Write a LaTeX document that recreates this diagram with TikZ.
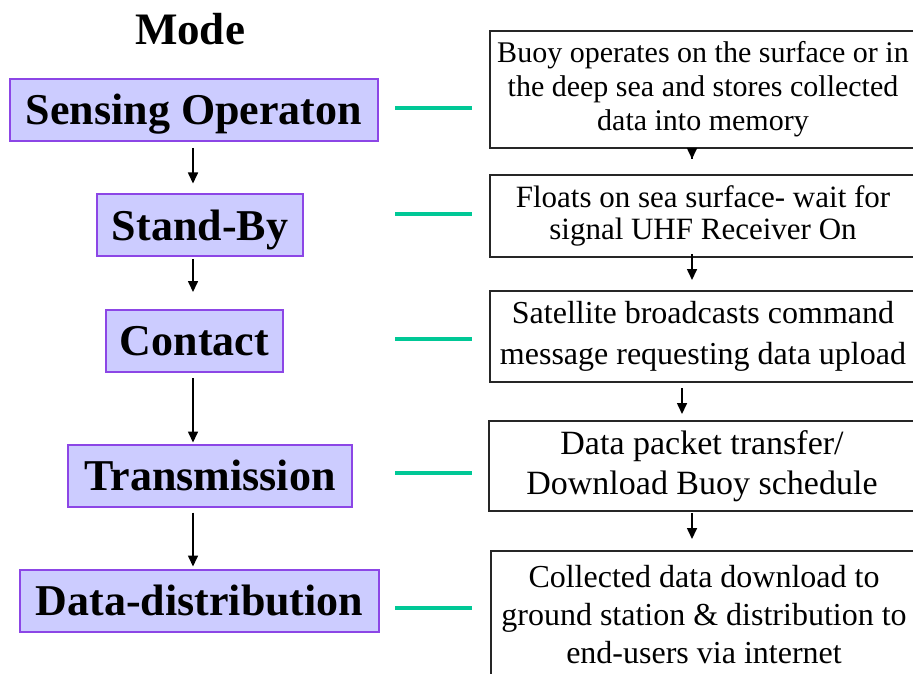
\documentclass[tikz,border=0pt]{standalone}
\usepackage{fontspec}
\setmainfont{Liberation Serif}
\usepackage{tikz}
\usetikzlibrary{arrows.meta,positioning}
\definecolor{ModeFill}{RGB}{204,204,255}
\definecolor{ModeLine}{RGB}{140,70,230}
\definecolor{LinkTeal}{RGB}{0,200,150}

\begin{document}
\begin{tikzpicture}[x=0.5pt,y=-0.5pt,
        mode/.style={draw=ModeLine,fill=ModeFill,line width=1pt,inner sep=0pt,
                     minimum height=31pt,text height=14.6pt,text depth=0pt,
                     font=\fontsize{22}{26}\selectfont\bfseries},
        desc/.style={draw=black!85,line width=1pt,inner sep=0pt,
                     minimum width=213pt,align=center},
        arr/.style={-{Triangle[width=5pt,length=5.5pt]},line width=0.8pt},
        link/.style={LinkTeal,line width=1.6pt}
      ]
        \useasboundingbox (0,0) rectangle (913,673);
        % modes
        \node[font=\fontsize{22.5}{26}\selectfont\bfseries,anchor=base] (title) at (190,45) {Mode};
        \node[mode,minimum width=184pt] (SO) at (194,110) {Sensing Operaton};
        \node[mode,minimum width=103pt] (SB) at (200,225.5) {Stand-By};
        \node[mode,minimum width=88.5pt] (C) at (194.5,341) {Contact};
        \node[mode,minimum width=142pt] (T) at (210,475.5) {Transmission};
        \node[mode,minimum width=179.5pt] (DD) at (199.5,600.5) {Data-distribution};
        % descriptions
        \node[desc,minimum height=58.5pt,font=\fontsize{15}{17}\selectfont] (b1) at (703,89.5)
          {Buoy operates on the surface or in\\the deep sea and stores collected\\data into memory};
        \node[desc,minimum height=41pt,font=\fontsize{15.5}{16}\selectfont] (b2) at (703,216)
          {Floats on sea surface- wait for\\signal UHF Receiver On};
        \node[desc,minimum height=45.5pt,font=\fontsize{16}{20.5}\selectfont] (b3) at (703,336.5)
          {Satellite broadcasts command\\message requesting data upload};
        \node[desc,minimum height=45pt,font=\fontsize{17}{20}\selectfont] (b4) at (702,466)
          {Data packet transfer/\\Download Buoy schedule};
        \node[desc,minimum height=64pt,font=\fontsize{16}{19}\selectfont] (b5) at (704,615)
          {Collected data download to\\ground station \& distribution to\\end-users via internet};
        % arrows
        \coordinate (ax) at (193,0);
        \coordinate (bx) at (692,0);
        \coordinate (cx) at (682,0);
        \draw[arr,shorten <=3pt,shorten >=5pt] (SO.south -| ax) -- (SB.north -| ax);
        \draw[arr,shorten <=1pt,shorten >=8.5pt] (SB.south -| ax) -- (C.north -| ax);
        \draw[arr,shorten <=2.5pt,shorten >=0.5pt] (C.south -| ax) -- (T.north -| ax);
        \draw[arr,shorten <=2.5pt,shorten >=1pt] (T.south -| ax) -- (DD.north -| ax);
        \draw[arr,shorten <=-5pt,shorten >=7.5pt] (b1.south -| bx) -- (b2.north -| bx);
        \draw[arr,shorten <=-2pt,shorten >=5pt] (b2.south -| bx) -- (b3.north -| bx);
        \draw[arr,shorten <=2.5pt,shorten >=3pt] (b3.south -| cx) -- (b4.north -| cx);
        \draw[arr,shorten <=0.5pt,shorten >=5.5pt] (b4.south -| bx) -- (b5.north -| bx);
        % teal links
        \foreach \y [count=\i] in {108,214,339,473,608}{
          \coordinate (l\i) at (395,\y);
          \coordinate (r\i) at (472,\y);
          \draw[link] (l\i) -- (r\i);
        }
      \end{tikzpicture}
\end{document}
